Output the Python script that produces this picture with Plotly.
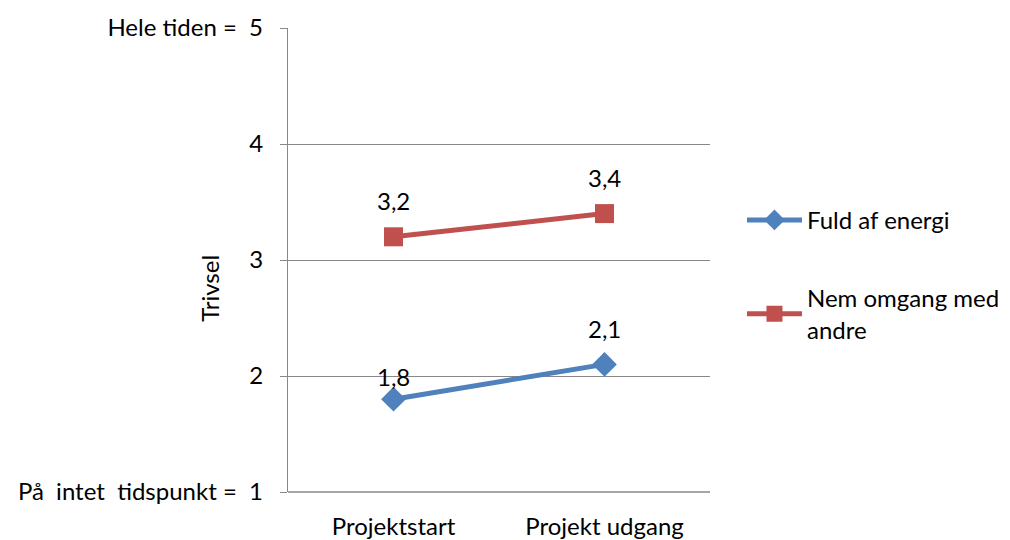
import plotly.graph_objects as go

categories = ["Projektstart", "Projekt udgang"]
energi = [1.8, 2.1]
omgang = [3.2, 3.4]
series_names = ["Fuld af energi", "Nem omgang med<br>andre"]
tick_vals = [1, 2, 3, 4, 5]
tick_text = ["På\u00a0\u00a0intet\u00a0\u00a0tidspunkt\u00a0=\u00a0\u00a01", "2", "3", "4",
             "Hele\u00a0tiden\u00a0=\u00a0\u00a05"]

BLUE = "#4F81BD"
RED = "#C0504D"
FONT = "Lato, 'Open Sans', sans-serif"
FS = 24

fig = go.Figure()
fig.add_trace(go.Scatter(
    x=categories, y=energi, name=series_names[0], mode="lines+markers",
    line=dict(color=BLUE, width=5),
    marker=dict(symbol="diamond", size=19, color=BLUE),
    legendgroup="a",
))
fig.add_trace(go.Scatter(
    x=categories, y=omgang, name=series_names[1], mode="lines+markers",
    line=dict(color=RED, width=5),
    marker=dict(symbol="square", size=19, color=RED),
    legendgroup="b",
))

def fmt(v):
    return f"{v:.1f}".replace(".", ",")

# value labels above each point (the first blue label sits a little lower)
label_shifts = {"energi": [23, 36], "omgang": [36, 36]}
for vals, key in ((energi, "energi"), (omgang, "omgang")):
    for cat, v, s in zip(categories, vals, label_shifts[key]):
        fig.add_annotation(x=cat, y=v, text=fmt(v), showarrow=False,
                           yshift=s, font=dict(size=FS, color="black", family=FONT))

# rotated y-axis title
fig.add_annotation(text="Trivsel", xref="paper", yref="paper", x=-0.1096, y=0.44,
                   xanchor="center", yanchor="middle",
                   showarrow=False, textangle=-90,
                   font=dict(size=FS, color="black", family=FONT))

# plot area occupies the left part of the paper; legend sits to its right
PLOT_END = 422 / 712

fig.update_layout(
    width=1010, height=540,
    margin=dict(l=288, r=10, t=28, b=48, autoexpand=False),
    paper_bgcolor="white", plot_bgcolor="white",
    font=dict(family=FONT, size=FS, color="black"),
    showlegend=True,
    legend=dict(x=0.6376, y=0.634, xanchor="left", yanchor="top",
                font=dict(size=FS), itemwidth=55, tracegroupgap=44,
                bgcolor="rgba(0,0,0,0)"),
    xaxis=dict(domain=[0, PLOT_END], range=[-0.5, 1.5], showgrid=False,
               showline=False, ticks="", tickfont=dict(size=FS), zeroline=False,
               ticklabelstandoff=18, automargin=False),
    yaxis=dict(range=[1, 5], tickvals=tick_vals, ticktext=tick_text,
               showgrid=True, gridcolor="#888888", gridwidth=1.3,
               showline=True, linecolor="#888888", linewidth=1.3,
               ticks="outside", ticklen=7, tickcolor="#888888",
               ticklabelstandoff=12, zeroline=False, automargin=False),
)
# bottom border of plot area
fig.add_shape(type="line", xref="paper", yref="paper", x0=0, x1=PLOT_END, y0=0, y1=0,
              line=dict(color="#888888", width=1.3))

fig.write_html("out.html")
